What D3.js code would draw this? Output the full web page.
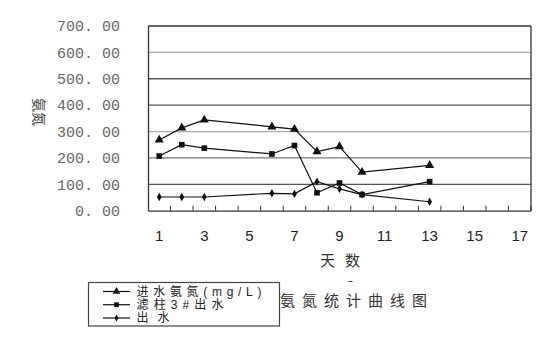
<!DOCTYPE html>
<html><head><meta charset="utf-8">
<script src="https://cdn.jsdelivr.net/npm/d3@7"></script>
<style>html,body{margin:0;padding:0;background:#fff;}svg{display:block;}</style>
</head><body>
<svg id="c" width="558" height="342"></svg>
<script>
const days = [1,2,3,6,7,8,9,10,13];
const inflow = [268,314,344,318,309,224,243,146,172];
const filter3 = [207,250,237,215,247,68,105,61,110];
const outflow = [52,52,52,66,64,110,83,61,34];
const categories = d3.range(1,18);
const xTickLabels = [1,3,5,7,9,11,13,15,17];
const yTicks = [0,100,200,300,400,500,600,700];
const seriesNames = ["进水氨氮(mg/L)","滤柱3#出水","出水"];

const svg = d3.select("#c");
const L=148,R=531,T=26,B=210.7;
const x = d3.scaleBand().domain(categories).range([L,R]);
const y = d3.scaleLinear().domain([0,700]).range([B,T]);
const cx = d => x(d)+x.bandwidth()/2;

// gridlines
const gridCol = {100:"#555",200:"#777",300:"#aaa",400:"#555",500:"#555",600:"#aaa",700:"#333"};
svg.append("g").selectAll("line").data(yTicks.filter(v=>v>0)).join("line")
  .attr("x1",L).attr("x2",R).attr("y1",d=>y(d)).attr("y2",d=>y(d))
  .attr("stroke",d=>gridCol[d]).attr("stroke-width",1.3);
// frame
svg.append("line").attr("x1",R).attr("x2",R).attr("y1",T).attr("y2",B).attr("stroke","#333").attr("stroke-width",1.3);
// y axis
const yAxis = svg.append("g").attr("transform",`translate(${L},0)`)
  .call(d3.axisLeft(y).tickValues(yTicks).tickSize(0).tickPadding(28).tickFormat(d=>d3.format(".2f")(d).replace(".",". ")));
yAxis.select(".domain").attr("stroke","#333").attr("stroke-width",1.3);
yAxis.selectAll("text").attr("font-family","'Liberation Mono','DejaVu Sans Mono',monospace").attr("font-size","15px").attr("fill","#666");
// x axis
const xAxis = svg.append("g").attr("transform",`translate(0,${B})`)
  .call(d3.axisBottom(x).tickSize(0).tickValues(xTickLabels).tickPadding(20));
xAxis.select(".domain").attr("stroke","#333").attr("stroke-width",1.3);
xAxis.selectAll("text").attr("font-family","'Liberation Sans',Arial,sans-serif").attr("font-size","15px").attr("fill","#222");
// tick marks between categories
svg.append("g").selectAll("line").data(categories).join("line")
  .attr("x1",d=>x(d)+x.bandwidth()).attr("x2",d=>x(d)+x.bandwidth())
  .attr("y1",B).attr("y2",B-5).attr("stroke","#333").attr("stroke-width",1);

// series
const line = d3.line().x((d,i)=>cx(days[i])).y(d=>y(d));
const seriesData = [inflow,filter3,outflow];
const markers = [d3.symbolTriangle,d3.symbolSquare,d3.symbolDiamond];
const msize = [36,32,20];
seriesData.forEach((s,k)=>{
  svg.append("path").datum(s).attr("d",line).attr("fill","none").attr("stroke","#111").attr("stroke-width",1.2);
  svg.append("g").selectAll("path").data(s).join("path")
    .attr("transform",(d,i)=>`translate(${cx(days[i])},${y(d)})`)
    .attr("d",d3.symbol().type(markers[k]).size(msize[k])).attr("fill","#111");
});

// y title (rotated glyphs)
svg.append("text").attr("transform","translate(34,112) rotate(90)")
  .attr("text-anchor","middle").attr("font-family","'Noto Sans CJK SC'").attr("font-size","14px").attr("fill","#444").text("氨氮");
// x title
svg.append("text").attr("x",320).attr("y",265.5).attr("textLength",40).attr("lengthAdjust","spacing")
  .attr("font-family","'Noto Sans CJK SC'").attr("font-size","15px").attr("fill","#333").text("天数");
svg.append("line").attr("x1",348.5).attr("x2",352.5).attr("y1",281.5).attr("y2",281.5).attr("stroke","#333");
// chart title
svg.append("text").attr("x",280).attr("y",305.5).attr("textLength",147).attr("lengthAdjust","spacing")
  .attr("font-family","'Noto Sans CJK SC'").attr("font-size","15px").attr("fill","#333").text("氨氮统计曲线图");

// legend
const lg = svg.append("g");
lg.append("rect").attr("x",88.5).attr("y",282.5).attr("width",191).attr("height",43.5).attr("fill","#fff").attr("stroke","#444").attr("stroke-width",1.2);
const ly = [291.5,304.7,318];
const lw = [125,87,33];
seriesNames.forEach((n,k)=>{
  lg.append("line").attr("x1",103).attr("x2",130).attr("y1",ly[k]).attr("y2",ly[k]).attr("stroke","#111").attr("stroke-width",1.2);
  lg.append("path").attr("transform",`translate(116.5,${ly[k]})`).attr("d",d3.symbol().type(markers[k]).size(msize[k]*0.7)).attr("fill","#111");
  lg.append("text").attr("x",136.5).attr("y",ly[k]+4.3).attr("textLength",lw[k]).attr("lengthAdjust","spacing")
    .attr("font-family","'Liberation Sans','Noto Sans CJK SC'").attr("font-size","12px").attr("fill","#222").text(n);
});
</script>
</body></html>
